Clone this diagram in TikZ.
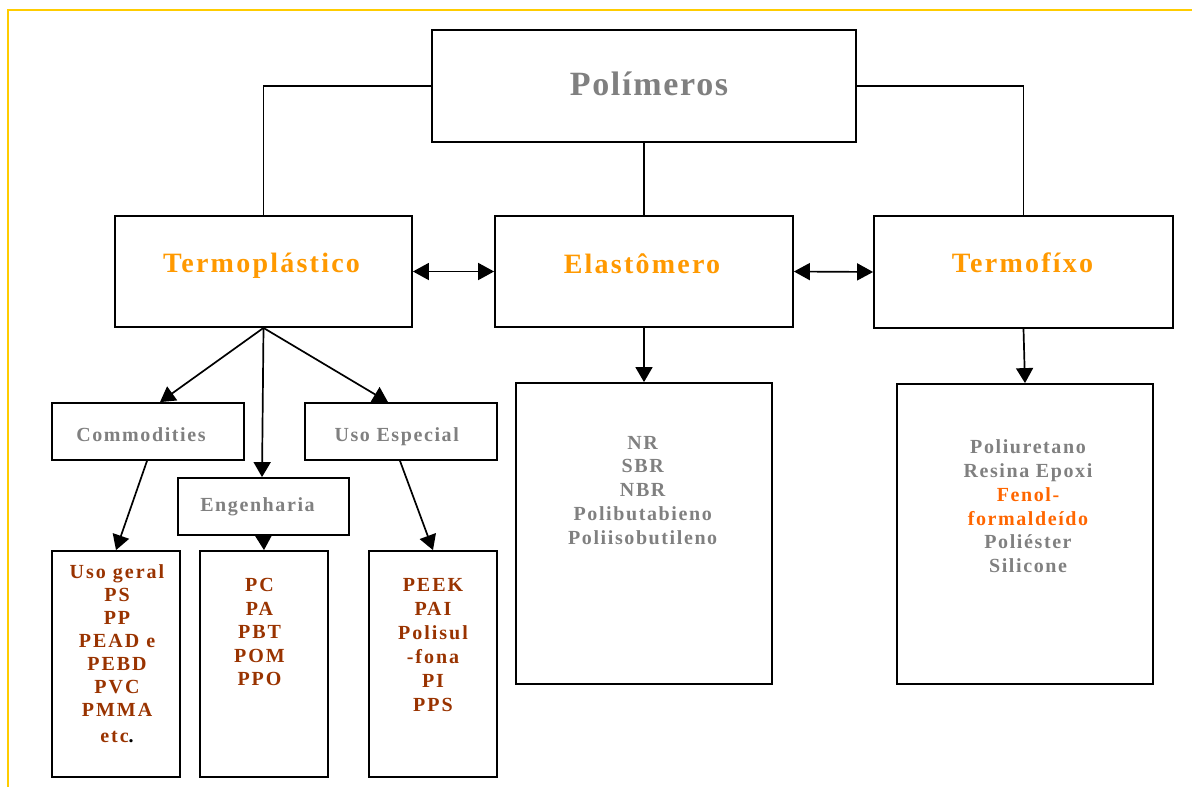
\documentclass[tikz,border=0pt]{standalone}
\usepackage{fontspec}
\setmainfont{Liberation Serif}
\newfontfamily\lsfive{Liberation Serif}[LetterSpace=5]
\newfontfamily\lseight{Liberation Serif}[LetterSpace=8]
\newfontfamily\lsten{Liberation Serif}[LetterSpace=10]
\usetikzlibrary{arrows.meta}
\definecolor{txtgray}{HTML}{808080}
\definecolor{titleorange}{HTML}{FF9900}
\definecolor{fenolorange}{HTML}{FF6600}
\definecolor{brownred}{HTML}{993300}
\definecolor{frameyellow}{HTML}{FFCC00}
\begin{document}
\begin{tikzpicture}[x=1pt,y=-1pt,
  box/.style={draw=black, line width=1.8pt, inner sep=0pt, rectangle},
  conn/.style={line width=1.7pt, black},
  arr/.style={conn, -{Triangle[length=15pt,width=17pt]}},
  darr/.style={conn, {Triangle[length=16pt,width=17pt]}-{Triangle[length=16pt,width=17pt]}},
  bigtitle/.style={anchor=base, inner sep=0pt, text=txtgray, font=\lsfive\bfseries\fontsize{34}{40}\selectfont},
  maintitle/.style={anchor=base, inner sep=0pt, text=titleorange, font=\lseight\bfseries\fontsize{28}{32}\selectfont},
  subtitle/.style={anchor=base, inner sep=0pt, text=txtgray, font=\lseight\bfseries\fontsize{20}{24}\selectfont},
  brownlist/.style={anchor=north, align=center, inner sep=0pt, text=brownred},
  graylist/.style={anchor=north, align=center, inner sep=0pt, text=txtgray}
]
\useasboundingbox (0,0) rectangle (1192,787);
\draw[frameyellow, line width=2pt] (8,787) -- (8,10) -- (1192,10);

% boxes
\node[box, minimum width=424pt, minimum height=112pt] (pol) at (644,86) {};
\node[box, minimum width=297pt, minimum height=111pt] (termo) at (263.5,271.5) {};
\node[box, minimum width=298pt, minimum height=111pt] (elast) at (644,271.5) {};
\node[box, minimum width=299pt, minimum height=112pt] (tfix) at (1023.5,272) {};
\node[box, minimum width=192pt, minimum height=57pt] (comm) at (148,431.5) {};
\node[box, minimum width=192pt, minimum height=57pt] (uesp) at (401,431.5) {};
\node[box, minimum width=171pt, minimum height=57pt] (eng) at (263.5,506.5) {};
\node[box, minimum width=128pt, minimum height=226pt] (ug) at (116,664) {};
\node[box, minimum width=128pt, minimum height=226pt] (engbox) at (264,664) {};
\node[box, minimum width=128pt, minimum height=226pt] (uebox) at (433,664) {};
\node[box, minimum width=256pt, minimum height=301pt] (elbox) at (644,533.5) {};
\node[box, minimum width=256pt, minimum height=300pt] (tfbox) at (1025,534) {};

% texts
\node[bigtitle] (tpol) at (649,95) {Polímeros};
\node[maintitle] (ttermo) at (261.5,272.7) {Termoplástico};
\node[maintitle] (telast) at (642,273) {Elastômero};
\node[maintitle] (ttfix) at (1022.5,272.7) {Termofíxo};
\node[subtitle] (tcomm) at (141,441) {Commodities};
\node[subtitle] (tuesp) at (396.7,441) {Uso Especial};
\node[subtitle] (teng) at (257.5,511.7) {Engenharia};

\node[brownlist, font=\lsten\bfseries\fontsize{20}{23}\selectfont] (tug) at (117,564.4)
  {Uso geral\\PS\\PP\\PEAD e\\PEBD\\PVC\\PMMA\\[3pt]etc{\color{black}.}};
\node[brownlist, font=\lsten\bfseries\fontsize{20}{23.6}\selectfont] (tengbox) at (259.5,578)
  {PC\\PA\\PBT\\POM\\PPO};
\node[brownlist, font=\lsten\bfseries\fontsize{20}{24}\selectfont] (tuebox) at (433,578.4)
  {PEEK\\PAI\\Polisul\\-fona\\PI\\PPS};
\node[graylist, font=\lseight\bfseries\fontsize{20}{23.75}\selectfont] (telbox) at (642.7,435.7)
  {NR\\SBR\\NBR\\Polibutabieno\\Poliisobutileno};
\node[graylist, font=\lseight\bfseries\fontsize{20}{23.8}\selectfont] (ttfbox) at (1028,439.7)
  {Poliuretano\\Resina Epoxi\\{\color{fenolorange}Fenol-}\\{\color{fenolorange}formaldeído}\\Poliéster\\Silicone};

% connectors
\draw[conn] (pol.west) -| (termo.north);
\draw[conn] (pol.east) -| (tfix.north);
\draw[conn] (pol.south) -- (elast.north);
\draw[darr] (termo.east) -- (elast.west);
\draw[darr] (elast.east) -- (tfix.west);
\draw[arr] (termo.south) -- ([xshift=12pt]comm.north);
\draw[arr] (termo.south) -- ([xshift=-1.5pt]eng.north);
\draw[arr] (termo.south) -- ([xshift=-13pt]uesp.north);
\draw[arr] ([xshift=-1pt]comm.south) -- (ug.north);
\draw[arr] ([xshift=-1pt]uesp.south) -- (uebox.north);
\draw[arr] (eng.south) -- (engbox.north);
\draw[arr] (elast.south) -- (elbox.north);
\draw[arr] (tfix.south) -- (tfbox.north);
\end{tikzpicture}
\end{document}
